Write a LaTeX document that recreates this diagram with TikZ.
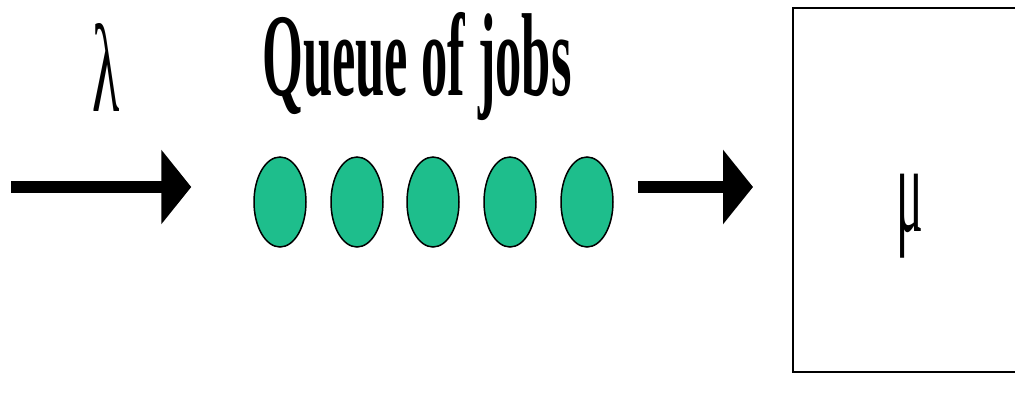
\documentclass[tikz,border=0pt]{standalone}
\usepackage{fontspec}
\setmainfont{Liberation Serif}
\usepackage{xcolor}
\usepackage{tikz}
\usetikzlibrary{shapes.geometric, arrows.meta, positioning}
\definecolor{jobgreen}{RGB}{30, 190, 140}

\begin{document}
\begin{tikzpicture}[
        x=1pt, y=-1pt,
        job/.style = {draw, black, line width=1.5pt, fill=jobgreen, ellipse, minimum width=52pt, minimum height=90pt, inner sep=0pt},
        server/.style = {draw, black, line width=2pt, rectangle, minimum width=238pt, minimum height=364pt, anchor=north west},
        bigarrow/.style = {line width=12pt, -{Triangle[length=30pt, width=73pt]}, black}
    ]
        \useasboundingbox (0,0) rectangle (1015,396);

        % Nodes
        \node [font=\fontsize{118}{125}\selectfont\bfseries] (title) at (417,67) {\scalebox{0.445}[1]{Queue of jobs}};
        \node [font=\fontsize{125}{130}\selectfont, inner sep=0pt] (arrival) at (106,67) {\scalebox{0.45}[1]{λ}};
        \foreach \i/\x in {1/280, 2/357, 3/433, 4/510, 5/587}
            \node [job] (job\i) at (\x,202) {};
        \node [server] (server) at (792,7) {};
        \node [font=\fontsize{125}{130}\selectfont, inner sep=0pt] (rate) at (910,216) {\scalebox{0.4}[1]{μ}};
        \coordinate (source) at (11,187);

        % Connections
        \draw [bigarrow, shorten >=62pt] (source) -- (job1.west |- source);
        \draw [bigarrow, shorten <=24pt, shorten >=39pt] (job5.east |- source) -- (server.west |- source);
    \end{tikzpicture}
\end{document}
